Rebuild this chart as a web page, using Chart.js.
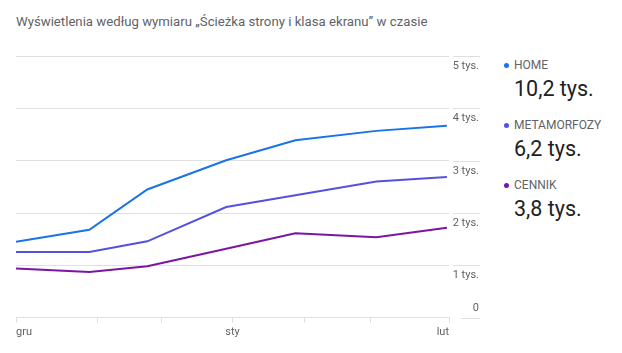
<!DOCTYPE html>
<html lang="pl">
<head>
<meta charset="utf-8">
<script src="https://cdn.jsdelivr.net/npm/chart.js@4"></script>
<style>
  html, body { margin: 0; padding: 0; background: #fff; }
  body { width: 622px; height: 353px; position: relative; overflow: hidden; font-family: Roboto, "Noto Sans", sans-serif; }
  #title { position: absolute; left: 16px; top: 14px; font-size: 13.2px; color: #5f6368; white-space: nowrap; }
  #wrap { position: absolute; left: 0; top: 0; width: 500px; height: 353px; }
  .leg { position: absolute; left: 504px; }
  .leg .name { font-size: 12px; color: #5f6368; line-height: 14px; display: flex; align-items: center; }
  .leg .dot { width: 5px; height: 5px; border-radius: 50%; margin-right: 5px; }
  .leg .val { font-size: 21.5px; color: #202124; line-height: 26px; margin-top: 4px; margin-left: 10px; }
</style>
</head>
<body>
<div id="title">Wyświetlenia według wymiaru „Ścieżka strony i klasa ekranu” w czasie</div>
<div id="wrap"><canvas id="chart"></canvas></div>
<div id="legend"></div>
<script>
// ── Data (x = days since 1 Dec) ──
const days = [0, 10.5, 18.8, 30.1, 40, 51.6, 61.7];
const homeViews = [1450, 1680, 2450, 3010, 3390, 3570, 3670];
const metamorfozyViews = [1255, 1255, 1460, 2115, 2340, 2605, 2690];
const cennikViews = [940, 875, 985, 1320, 1615, 1540, 1720];

const seriesNames = ["HOME", "METAMORFOZY", "CENNIK"];
const seriesTotals = ["10,2 tys.", "6,2 tys.", "3,8 tys."];
const seriesColors = ["#1a73e8", "#5352e0", "#7b16a3"];

const xTickDays = [0, 11.6, 20.9, 31, 41.3, 50.8, 62];
const xTickLabels = { 0: "gru", 31: "sty", 62: "lut" };
const yTicks = [0, 1000, 2000, 3000, 4000, 5000];
const yTickLabels = ["0", "1 tys.", "2 tys.", "3 tys.", "4 tys.", "5 tys."];

const GRID = "#e0e0e0";
const TEXT = "#5f6368";

function toPoints(vals) {
  return vals.map((v, i) => ({ x: days[i], y: v }));
}

// ── Right-hand y labels (drawn beside the plot, like the original) ──
const sideLabels = {
  id: "sideLabels",
  afterDraw(chart) {
    const { ctx, scales } = chart;
    const y = scales.y;
    ctx.save();
    ctx.font = "11px Roboto, sans-serif";
    ctx.fillStyle = TEXT;
    ctx.textAlign = "right";
    ctx.textBaseline = "middle";
    yTicks.forEach((v, i) => {
      const py = Math.round(y.getPixelForValue(v)) + 0.5;
      ctx.strokeStyle = GRID;
      ctx.lineWidth = 1;
      ctx.beginPath();
      ctx.moveTo(v === 0 ? 461 : 453, py);
      ctx.lineTo(480, py);
      ctx.stroke();
      ctx.fillText(yTickLabels[i], 479, v === 0 ? py - 10 : py + 10);
    });
    ctx.restore();
  },
};

const chart = new Chart(document.getElementById("chart"), {
  type: "line",
  data: {
    datasets: [
      { label: seriesNames[0], data: toPoints(homeViews) },
      { label: seriesNames[1], data: toPoints(metamorfozyViews) },
      { label: seriesNames[2], data: toPoints(cennikViews) },
    ].map((d, i) => ({
      ...d,
      borderColor: seriesColors[i],
      backgroundColor: seriesColors[i],
      borderWidth: 2,
      pointRadius: 0,
      tension: 0,
    })),
  },
  options: {
    responsive: true,
    maintainAspectRatio: false,
    animation: false,
    layout: { padding: { left: 16, right: 51, top: 56, bottom: 11 } },
    plugins: { legend: { display: false }, tooltip: { enabled: false } },
    scales: {
      x: {
        type: "linear",
        min: 0,
        max: 62,
        afterBuildTicks: (s) => { s.ticks = xTickDays.map((v) => ({ value: v })); },
        grid: { drawOnChartArea: false, color: GRID, tickLength: 5 },
        border: { color: GRID },
        ticks: {
          align: "inner",
          maxRotation: 0,
          autoSkip: false,
          padding: 3,
          color: TEXT,
          font: { family: "Roboto", size: 11 },
          callback: (v) => xTickLabels[v] || "",
        },
      },
      y: {
        position: "right",
        min: 0,
        max: 5000,
        afterBuildTicks: (s) => { s.ticks = yTicks.map((v) => ({ value: v })); },
        grid: { color: (c) => (c.tick.value === 0 ? "rgba(0,0,0,0)" : GRID), drawTicks: false },
        border: { display: false },
        ticks: { display: false },
      },
    },
  },
  plugins: [sideLabels],
});

// ── Legend ──
const legend = document.getElementById("legend");
const legendTops = [58, 118, 178];
seriesNames.forEach((name, i) => {
  const el = document.createElement("div");
  el.className = "leg";
  el.style.top = legendTops[i] + "px";
  el.innerHTML =
    `<div class="name"><span class="dot" style="background:${seriesColors[i]}"></span>${name}</div>` +
    `<div class="val">${seriesTotals[i]}</div>`;
  legend.appendChild(el);
});
</script>
</body>
</html>
